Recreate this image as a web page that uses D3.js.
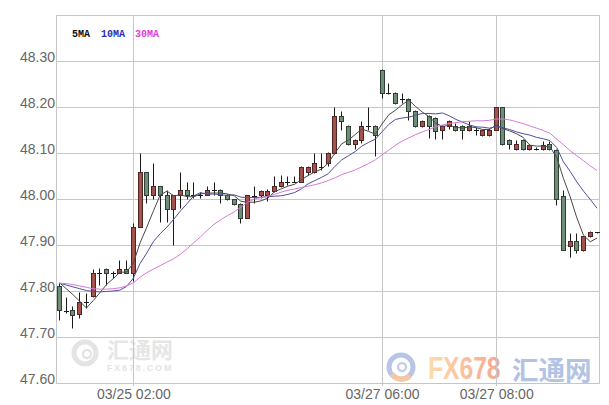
<!DOCTYPE html>
<html><head><meta charset="utf-8">
<script src="https://cdn.jsdelivr.net/npm/d3@7/dist/d3.min.js"></script>
<style>html,body{margin:0;padding:0;background:#fff;}svg{display:block;}</style>
</head><body>
<svg id="chart" width="609" height="405"></svg>
<script>
// ---- data ----
const openP = [47.810,47.757,47.758,47.749,47.777,47.790,47.839,47.848,47.839,47.839,47.848,47.839,47.939,48.059,48.009,48.028,48.009,47.978,48.009,48.019,48.009,48.009,48.009,48.019,48.019,48.009,47.999,47.990,47.959,48.006,48.009,48.009,48.018,48.028,48.038,48.038,48.038,48.058,48.058,48.070,48.078,48.100,48.181,48.158,48.120,48.129,48.158,48.158,48.281,48.230,48.230,48.217,48.217,48.191,48.158,48.180,48.176,48.149,48.158,48.158,48.158,48.149,48.149,48.140,48.140,48.151,48.200,48.128,48.109,48.128,48.109,48.109,48.109,48.120,48.107,48.007,47.897,47.908,47.890,47.919,47.928];
const highP = [47.818,47.788,47.767,47.797,47.796,47.848,47.850,47.851,47.843,47.868,47.868,47.948,48.100,48.059,48.078,48.028,48.020,48.009,48.059,48.038,48.038,48.016,48.029,48.038,48.021,48.011,48.001,47.992,48.009,48.028,48.020,48.022,48.051,48.053,48.051,48.051,48.072,48.072,48.100,48.100,48.102,48.201,48.191,48.160,48.131,48.169,48.201,48.160,48.283,48.252,48.232,48.230,48.219,48.193,48.171,48.182,48.178,48.160,48.171,48.166,48.160,48.169,48.156,48.151,48.155,48.201,48.201,48.130,48.128,48.130,48.120,48.114,48.125,48.125,48.109,48.020,47.926,47.926,47.919,47.930,47.929];
const lowP = [47.738,47.753,47.720,47.741,47.763,47.787,47.812,47.812,47.828,47.839,47.839,47.821,47.939,47.991,47.999,47.949,47.951,47.899,47.980,47.999,48.002,48.002,48.009,48.009,47.991,47.997,47.988,47.948,47.959,47.991,48.002,47.995,48.016,48.026,48.031,48.036,48.036,48.053,48.056,48.064,48.072,48.098,48.151,48.118,48.109,48.122,48.151,48.093,48.220,48.228,48.207,48.209,48.172,48.156,48.156,48.133,48.130,48.130,48.152,48.147,48.130,48.147,48.140,48.138,48.138,48.149,48.118,48.109,48.107,48.107,48.107,48.107,48.107,48.107,47.988,47.890,47.875,47.883,47.888,47.917,47.927];
const closeP = [47.759,47.756,47.748,47.777,47.777,47.839,47.839,47.839,47.839,47.848,47.839,47.939,48.059,48.009,48.028,48.009,47.978,48.009,48.019,48.009,48.009,48.009,48.019,48.019,48.009,47.999,47.990,47.959,48.009,48.006,48.018,48.018,48.028,48.038,48.038,48.038,48.070,48.070,48.078,48.070,48.100,48.181,48.170,48.120,48.129,48.158,48.158,48.140,48.230,48.230,48.209,48.217,48.191,48.158,48.169,48.158,48.147,48.158,48.169,48.149,48.149,48.159,48.149,48.149,48.149,48.200,48.120,48.120,48.120,48.109,48.118,48.109,48.118,48.109,47.999,47.890,47.908,47.890,47.919,47.928,47.928];
const ma5 = [47.818,47.805,47.792,47.778,47.763,47.779,47.796,47.814,47.827,47.841,47.841,47.861,47.905,47.939,47.975,48.009,48.017,48.007,48.009,48.005,48.005,48.011,48.013,48.013,48.013,48.011,48.007,47.995,47.993,47.993,47.996,48.002,48.016,48.022,48.028,48.032,48.042,48.051,48.059,48.065,48.078,48.100,48.120,48.128,48.140,48.152,48.147,48.141,48.163,48.183,48.193,48.205,48.215,48.201,48.189,48.179,48.165,48.158,48.160,48.156,48.154,48.157,48.155,48.151,48.151,48.161,48.153,48.148,48.142,48.134,48.117,48.115,48.115,48.113,48.091,48.045,48.005,47.959,47.921,47.907,47.915];
const ma10 = [47.817,47.813,47.809,47.805,47.801,47.799,47.798,47.799,47.800,47.802,47.810,47.828,47.860,47.883,47.908,47.925,47.939,47.956,47.974,47.990,48.007,48.014,48.010,48.011,48.009,48.008,48.009,48.004,48.003,48.003,48.004,48.005,48.006,48.007,48.010,48.014,48.022,48.033,48.040,48.047,48.055,48.071,48.085,48.094,48.103,48.115,48.123,48.130,48.146,48.162,48.173,48.176,48.178,48.182,48.186,48.186,48.185,48.187,48.181,48.173,48.167,48.161,48.157,48.156,48.154,48.158,48.155,48.151,48.146,48.142,48.139,48.134,48.131,48.127,48.112,48.081,48.060,48.037,48.017,47.999,47.980];
const ma30 = [47.817,47.816,47.814,47.811,47.808,47.805,47.804,47.804,47.805,47.807,47.811,47.818,47.830,47.840,47.848,47.855,47.863,47.870,47.880,47.892,47.905,47.918,47.932,47.945,47.955,47.964,47.972,47.982,47.993,48.000,48.003,48.006,48.010,48.015,48.019,48.022,48.025,48.028,48.031,48.035,48.040,48.046,48.053,48.058,48.063,48.070,48.077,48.085,48.096,48.106,48.117,48.126,48.133,48.140,48.146,48.151,48.157,48.161,48.164,48.166,48.168,48.169,48.170,48.170,48.171,48.174,48.174,48.172,48.168,48.164,48.159,48.154,48.149,48.143,48.130,48.118,48.105,48.094,48.083,48.072,48.062];
const yTicks = [47.60,47.70,47.80,47.90,48.00,48.10,48.20,48.30];
const xTickIndex = [11,48,65];
const xTickLabels = ["03/25 02:00","03/27 06:00","03/27 08:00"];
const maNames = ["5MA","10MA","30MA"];

// ---- layout ----
const L = 57, R = 599, T = 15, B = 383;
const n = closeP.length;
const svg = d3.select("#chart");
svg.append("rect").attr("width",609).attr("height",405).attr("fill","#fff");

const x = d3.scalePoint().domain(d3.range(n)).range([59.5, 597]);
const y = d3.scaleLinear().domain([47.6, 48.4]).range([B, T]);
const px = i => Math.floor(x(i)) + 0.5;
const py = v => Math.round(y(v)) + 0.5;

// ---- watermarks ----
const wm = svg.append("g");
wm.append("circle").attr("cx",85).attr("cy",353).attr("r",11).attr("fill","none").attr("stroke","#e4e4e4").attr("stroke-width",5);
wm.append("circle").attr("cx",87).attr("cy",354).attr("r",4).attr("fill","none").attr("stroke","#e4e4e4").attr("stroke-width",2.5);
wm.append("text").attr("x",107).attr("y",357.5).attr("font-family","Noto Sans CJK SC").attr("font-size",22).attr("font-weight","bold")
  .attr("fill","#e6e6e6").text("汇通网");
wm.append("text").attr("x",107).attr("y",370.5).attr("font-family","Liberation Sans").attr("font-size",9).attr("font-weight","bold")
  .attr("letter-spacing",1.8).attr("fill","#e4e4e4").text("FX678.COM");
const defs = svg.append("defs");
const gr = defs.append("linearGradient").attr("id","fxg").attr("x1","0").attr("x2","1").attr("y1","0").attr("y2","0");
gr.append("stop").attr("offset","0").attr("stop-color","#fcdcaa");
gr.append("stop").attr("offset","1").attr("stop-color","#f5a690");
wm.append("circle").attr("cx",401).attr("cy",367).attr("r",12).attr("fill","none").attr("stroke","#b9c5e6").attr("stroke-width",5);
wm.append("path").attr("d","M392,374 A12,12 0 0 0 410,376").attr("fill","none").attr("stroke","#f7c7a0").attr("stroke-width",5);
wm.append("circle").attr("cx",402).attr("cy",367).attr("r",4).attr("fill","none").attr("stroke","#c6d0ea").attr("stroke-width",2.5);
wm.append("text").attr("transform","translate(428,378.5) scale(0.77,1)").attr("font-family","Liberation Sans")
  .attr("font-size",32).attr("font-weight","bold").attr("fill","url(#fxg)").text("FX678");
wm.append("text").attr("x",512).attr("y",379.5).attr("font-family","Noto Sans CJK SC").attr("font-size",26.5).attr("font-weight","bold")
  .attr("fill","#b2c3e4").text("汇通网");

// ---- grid & axes ----
const gridColor = "#c6c6c6";
const yAxis = d3.axisLeft(y).tickValues(yTicks).tickSize(-(R - L)).tickPadding(2).tickFormat(d3.format(".2f"));
svg.append("g").attr("transform", `translate(${L},0)`).call(yAxis)
  .call(g => g.select(".domain").remove())
  .call(g => g.selectAll(".tick line").attr("stroke", gridColor))
  .call(g => g.selectAll(".tick text").attr("dy", 0).attr("y", 0.5)
      .attr("font-family", "Liberation Sans").attr("font-size", 14).attr("fill", "#666"));

svg.append("g").selectAll("line").data(xTickIndex).join("line")
  .attr("x1", d => px(d)).attr("x2", d => px(d)).attr("y1", T).attr("y2", B + 3)
  .attr("stroke", gridColor);

const xAxis = d3.axisBottom(x).tickValues(xTickIndex).tickSize(0).tickPadding(0)
  .tickFormat(d => xTickLabels[xTickIndex.indexOf(d)]);
svg.append("g").attr("transform", `translate(0,${B})`).call(xAxis)
  .call(g => g.select(".domain").remove())
  .call(g => g.selectAll(".tick text").attr("dy", 0).attr("y", 15.5)
      .attr("font-family", "Liberation Sans").attr("font-size", 14).attr("fill", "#666"));

svg.append("rect").attr("x", L - 0.5).attr("y", T + 0.5).attr("width", R - L + 1).attr("height", B - T)
  .attr("fill", "none").attr("stroke", gridColor);

// ---- candles ----
const candles = svg.append("g").selectAll("g").data(d3.range(n)).join("g");
candles.append("line")
  .attr("x1", i => px(i)).attr("x2", i => px(i))
  .attr("y1", i => py(highP[i])).attr("y2", i => py(lowP[i]))
  .attr("stroke", "#1a1a1a");
candles.each(function(i) {
  const g = d3.select(this);
  const o = openP[i], c = closeP[i];
  const yTop = py(Math.max(o, c)), yBot = py(Math.min(o, c));
  const h = yBot - yTop;
  if (h < 1.5) {
    g.append("line").attr("x1", px(i) - 2.5).attr("x2", px(i) + 2.5)
      .attr("y1", yTop).attr("y2", yTop).attr("stroke", "#1a1a1a");
  } else {
    const up = c >= o;
    g.append("rect").attr("x", px(i) - 2).attr("width", 4)
      .attr("y", yTop).attr("height", h)
      .attr("fill", up ? "#a3524c" : "#6f8d77")
      .attr("stroke", up ? "#4f2523" : "#2f3f34");
  }
});

// ---- moving averages ----
const line = arr => d3.line().x((d, i) => x(i)).y(d => y(d))(arr);
const maColors = ["#4a4a4a", "#4f4f9c", "#d77ad7"];
[ma5, ma10, ma30].forEach((arr, k) => {
  svg.append("path").attr("d", line(arr)).attr("fill", "none")
    .attr("stroke", maColors[k]).attr("stroke-width", 1);
});

// ---- legend ----
const legendColors = ["#111", "#2f2fb8", "#e040e0"];
const legendX = [72, 101, 135];
svg.append("g").selectAll("text").data(maNames).join("text")
  .attr("x", (d, i) => legendX[i]).attr("y", 36.5)
  .attr("font-family", "Liberation Mono").attr("font-size", 10).attr("font-weight", "bold")
  .attr("fill", (d, i) => legendColors[i]).text(d => d);
</script>
</body></html>
